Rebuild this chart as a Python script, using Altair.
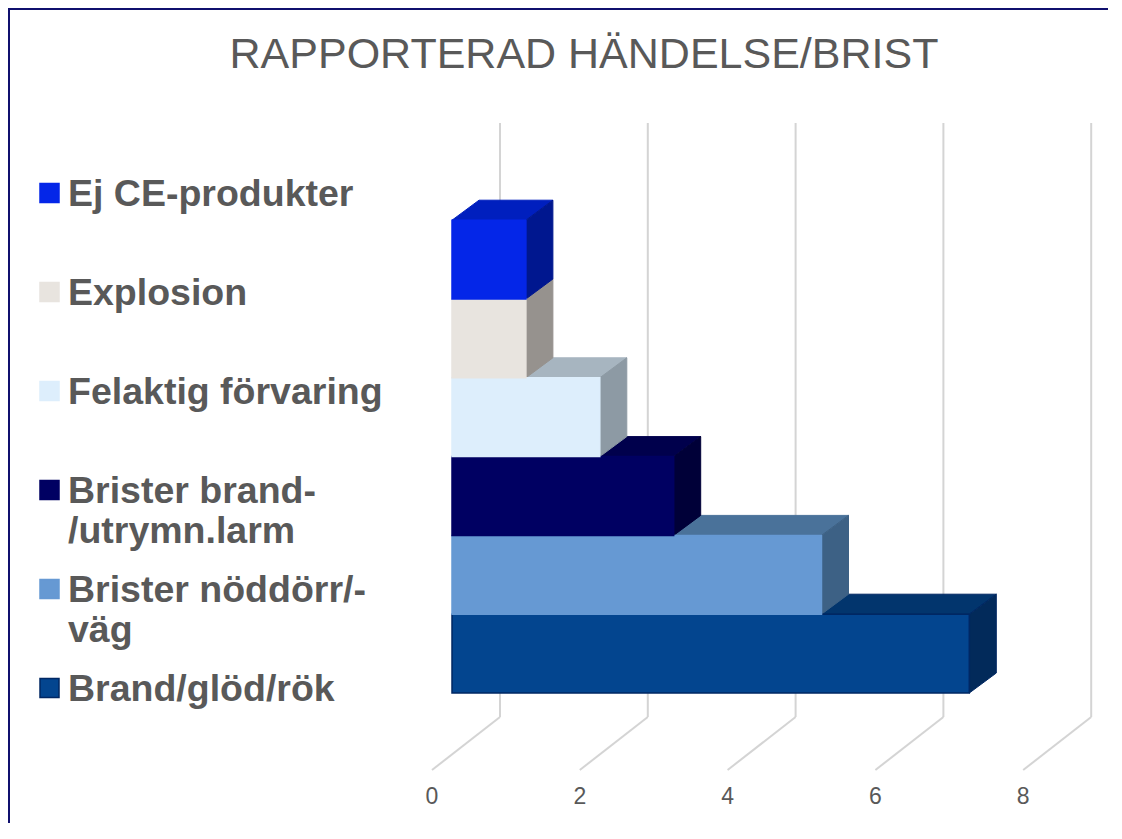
import altair as alt
import pandas as pd

# ---------------- data ----------------
categories = ["Ej CE-produkter", "Explosion", "Felaktig förvaring",
              "Brister brand-/utrymn.larm", "Brister nöddörr/-väg", "Brand/glöd/rök"]
values = [1, 1, 2, 3, 5, 7]
legend_labels = ["Ej CE-produkter", "Explosion", "Felaktig förvaring",
                 "Brister brand-\n/utrymn.larm", "Brister nöddörr/-\nväg", "Brand/glöd/rök"]
ticks = [0, 2, 4, 6, 8]
title_text = "RAPPORTERAD HÄNDELSE/BRIST"

# ---------------- styles ----------------
front_colors = ["#0426E8", "#E8E4DF", "#DDEEFC", "#000062", "#6699D3", "#03458F"]
top_colors = ["#001FBE", "#B8B4AF", "#A7B5C0", "#00004C", "#4A729A", "#02356D"]
side_colors = ["#00178F", "#96928E", "#8D9AA4", "#000038", "#3D6185", "#022A5A"]
stroke_colors = [None, None, None, None, None, "#002763"]
GRID = "#D4D4D4"
TEXT = "#595959"
FRAME = "#10106E"
FONT = "Liberation Sans"

W, H = 1100, 815
PX_X, PX_Y = 73.9, 78.8
X_DOMAIN = [-444 / PX_X, -444 / PX_X + W / PX_X]
Y_DOMAIN = [-130 / PX_Y, 685 / PX_Y]
BAR_DX, BAR_DY = 27 / PX_X, 20 / PX_Y
WALL_DX, WALL_Y0, WALL_Y1 = 48 / PX_X, -24 / PX_Y, 570 / PX_Y
FLOOR_DX, FLOOR_Y = -20 / PX_X, -77 / PX_Y

xs = alt.Scale(domain=X_DOMAIN, nice=False, zero=False)
ys = alt.Scale(domain=Y_DOMAIN, nice=False, zero=False)

# ---------------- tables ----------------
n = len(categories)
front_rows, top_rows, side_rows = [], [], []
for i, (c, v) in enumerate(zip(categories, values)):
    slot = n - 1 - i  # bottom category is slot 0
    st = stroke_colors[i] or front_colors[i]
    front_rows.append(dict(cat=c, x=0, x2=v, y=slot, y2=slot + 1,
                           fill=front_colors[i], stroke=st, order=slot))
    top_rows.append(dict(cat=c, y=slot + 1, x=0, x2=v, fill=top_colors[i],
                         stroke=stroke_colors[i] or top_colors[i], order=slot))
    top_rows.append(dict(cat=c, y=slot + 1 + BAR_DY, x=BAR_DX, x2=v + BAR_DX,
                         fill=top_colors[i], stroke=stroke_colors[i] or top_colors[i], order=slot))
    side_rows.append(dict(cat=c, x=v, y=slot, y2=slot + 1, fill=side_colors[i],
                          stroke=stroke_colors[i] or side_colors[i], order=slot))
    side_rows.append(dict(cat=c, x=v + BAR_DX, y=slot + BAR_DY, y2=slot + 1 + BAR_DY,
                          fill=side_colors[i], stroke=stroke_colors[i] or side_colors[i], order=slot))

front_df = pd.DataFrame(front_rows).sort_values("order")
top_df = pd.DataFrame(top_rows).sort_values("order")
side_df = pd.DataFrame(side_rows).sort_values("order")

grid_df = pd.DataFrame({"tick": ticks})
grid_df["xb"] = grid_df["tick"] + WALL_DX
grid_df["xf"] = grid_df["tick"] + FLOOR_DX
grid_df["y0"] = WALL_Y0
grid_df["y1"] = WALL_Y1
grid_df["yf"] = FLOOR_Y

legend_df = pd.DataFrame({
    "cat": categories,
    "label": legend_labels,
    "rank": list(range(n)),
    "fill": front_colors,
    "stroke": [s or f for s, f in zip(stroke_colors, front_colors)],
})

# ---------------- layers ----------------
wall = alt.Chart(grid_df).mark_rule(color=GRID, strokeWidth=2).encode(
    x=alt.X("xb:Q", scale=xs, axis=None),
    y=alt.Y("y0:Q", scale=ys, axis=None),
    y2="y1:Q",
)
floor = alt.Chart(grid_df).mark_rule(color=GRID, strokeWidth=2).encode(
    x=alt.X("xb:Q", scale=xs, axis=None),
    x2="xf:Q",
    y=alt.Y("y0:Q", scale=ys, axis=None),
    y2="yf:Q",
)
tick_labels = alt.Chart(grid_df).mark_text(
    dx=-20, fontSize=23, font=FONT, color=TEXT, baseline="middle", align="center"
).encode(
    x=alt.X("tick:Q", scale=xs, axis=None),
    y=alt.value(789),
    text=alt.Text("tick:Q"),
)

tops = alt.Chart(top_df).mark_area(orient="horizontal", strokeWidth=1, interpolate="linear").encode(
    y=alt.Y("y:Q", scale=ys, axis=None),
    x=alt.X("x:Q", scale=xs, axis=None),
    x2="x2:Q",
    fill=alt.Fill("fill:N", scale=None),
    stroke=alt.Stroke("stroke:N", scale=None),
    detail="cat:N",
    order=alt.Order("order:Q"),
)
sides = alt.Chart(side_df).mark_area(orient="vertical", strokeWidth=1, interpolate="linear").encode(
    x=alt.X("x:Q", scale=xs, axis=None),
    y=alt.Y("y:Q", scale=ys, axis=None),
    y2="y2:Q",
    fill=alt.Fill("fill:N", scale=None),
    stroke=alt.Stroke("stroke:N", scale=None),
    detail="cat:N",
    order=alt.Order("order:Q"),
)
fronts = alt.Chart(front_df).mark_rect(strokeWidth=1.5).encode(
    x=alt.X("x:Q", scale=xs, axis=None),
    x2="x2:Q",
    y=alt.Y("y:Q", scale=ys, axis=None),
    y2="y2:Q",
    fill=alt.Fill("fill:N", scale=None),
    stroke=alt.Stroke("stroke:N", scale=None),
    order=alt.Order("order:Q"),
)

ls = alt.Scale(domain=[-185 / 99, -185 / 99 + H / 99], reverse=True, nice=False, zero=False)
legend_sq = alt.Chart(legend_df).mark_square(size=361, opacity=1, strokeWidth=1.5).encode(
    x=alt.value(41.5),
    y=alt.Y("rank:Q", scale=ls, axis=None),
    fill=alt.Fill("fill:N", scale=None),
    stroke=alt.Stroke("stroke:N", scale=None),
)
legend_txt = alt.Chart(legend_df).mark_text(
    align="left", baseline="alphabetic", dy=13, fontSize=37.5, fontWeight="bold",
    font=FONT, color=TEXT, lineBreak="\n", lineHeight=40
).encode(
    x=alt.value(60),
    y=alt.Y("rank:Q", scale=ls, axis=None),
    text="label:N",
)

title = alt.Chart(pd.DataFrame({"t": [title_text]})).mark_text(
    fontSize=43, font=FONT, color=TEXT, baseline="alphabetic", align="center"
).encode(x=alt.value(576), y=alt.value(60), text="t:N")

frame_df = pd.DataFrame({"k": [0]})
frame_left = alt.Chart(frame_df).mark_rule(color=FRAME, strokeWidth=2).encode(
    x=alt.value(1), y=alt.value(0), y2=alt.value(H))
frame_top = alt.Chart(frame_df).mark_rule(color=FRAME, strokeWidth=2).encode(
    x=alt.value(0), x2=alt.value(W), y=alt.value(1))

chart = alt.layer(
    wall, floor, tick_labels, tops, sides, fronts, legend_sq, legend_txt, title,
    frame_left, frame_top
).resolve_scale(y="independent").properties(
    width=W, height=H, padding=0,
    autosize=alt.AutoSizeParams(type="none"),
    background="white",
).configure_view(stroke=None)

chart.save("out.html", embed_options={"renderer": "svg", "actions": False})
